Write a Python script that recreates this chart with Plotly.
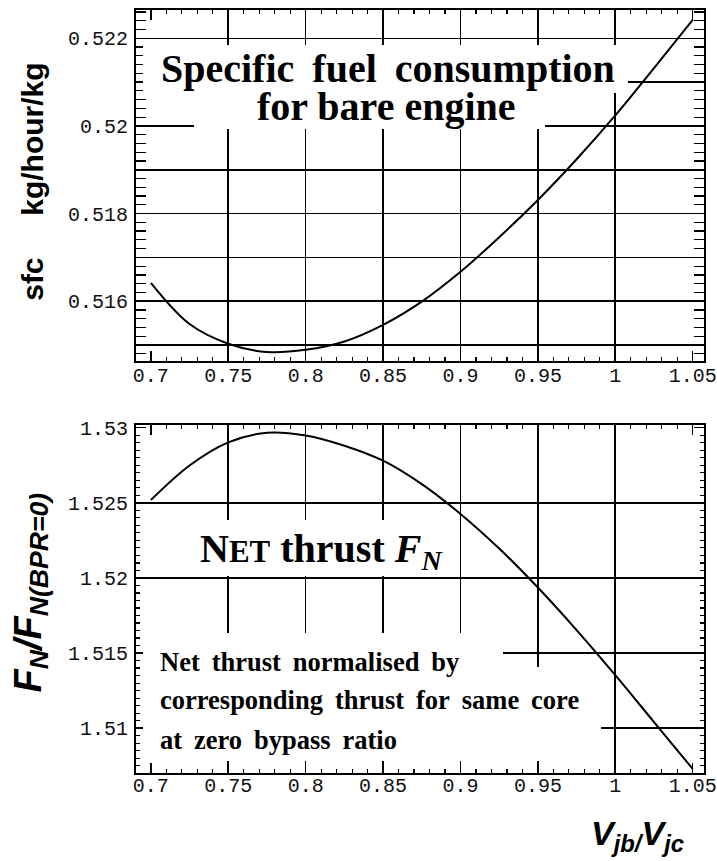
import plotly.graph_objects as go

# ---------------- data ----------------
x_ratio = [0.700, 0.725, 0.750, 0.775, 0.800, 0.825, 0.850, 0.875,
           0.900, 0.925, 0.950, 0.975, 1.000, 1.025, 1.050]
sfc = [0.51642, 0.51548, 0.51503, 0.51484, 0.51489, 0.51508, 0.51546, 0.51599,
       0.51667, 0.51746, 0.51831, 0.51924, 0.52024, 0.52132, 0.52242]
thrust_ratio = [1.52518, 1.52748, 1.52902, 1.52966, 1.52948, 1.52880, 1.52780, 1.52624,
                1.52426, 1.52196, 1.51936, 1.51653, 1.51353, 1.51041, 1.50729]

x_ticks = [0.7, 0.75, 0.8, 0.85, 0.9, 0.95, 1.0, 1.05]
x_tick_text = ["0.7", "0.75", "0.8", "0.85", "0.9", "0.95", "1", "1.05"]
x_grid = [0.75, 0.8, 0.85, 0.9, 0.95, 1.0]

sfc_ticks = [0.515, 0.516, 0.517, 0.518, 0.519, 0.520, 0.521, 0.522]
sfc_tick_text = ["", "0.516", "", "0.518", "", "0.52", "", "0.522"]

fn_ticks = [1.51, 1.515, 1.52, 1.525, 1.53]
fn_tick_text = ["1.51", "1.515", "1.52", "1.525", "1.53"]
fn_grid = [1.51, 1.515, 1.52, 1.525]

# ---------------- geometry helpers ----------------
W, H = 717, 861
def px(x):
    return x / W
def py(y):
    return 1 - y / H

X_RANGE = [0.6904, 1.0573]
SFC_RANGE = [0.514642, 0.522646]
FN_RANGE = [1.5070, 1.53021]
XDOM = [px(136), px(704)]
Y1DOM = [py(360.7), py(10)]
Y2DOM = [py(773.3), py(424.5)]

TICKFONT = dict(family="Liberation Mono", size=20, color="#111")
SERIF = "Liberation Serif"
SANS = "Liberation Sans"

def main_axis(**kw):
    d = dict(showline=True, linewidth=2, linecolor="black", mirror="allticks",
             ticks="inside", ticklen=10, tickwidth=1.5, tickcolor="black",
             showgrid=False, zeroline=False, tickfont=TICKFONT, tickmode="array",
             fixedrange=True, automargin=False)
    d.update(kw)
    return d

def grid_axis(**kw):
    d = dict(showline=False, showticklabels=False, ticks="", zeroline=False,
             showgrid=True, gridcolor="black", gridwidth=1.6, tickmode="array",
             fixedrange=True, automargin=False)
    d.update(kw)
    return d

def minor(tick0, dtick):
    return dict(tickmode="linear", tick0=tick0, dtick=dtick, ticks="inside", ticklen=4,
                tickwidth=1.2, tickcolor="black", showgrid=False)

fig = go.Figure()
fig.add_trace(go.Scatter(x=x_ratio, y=sfc, mode="lines", line=dict(color="black", width=2, shape="spline"),
                         xaxis="x", yaxis="y", hoverinfo="skip", showlegend=False))
fig.add_trace(go.Scatter(x=x_ratio, y=sfc, mode="lines", opacity=0, line=dict(width=0),
                         xaxis="x3", yaxis="y", hoverinfo="skip", showlegend=False))
fig.add_trace(go.Scatter(x=x_ratio, y=thrust_ratio, mode="lines", line=dict(color="black", width=2, shape="spline"),
                         xaxis="x2", yaxis="y2", hoverinfo="skip", showlegend=False))
fig.add_trace(go.Scatter(x=x_ratio, y=thrust_ratio, mode="lines", opacity=0, line=dict(width=0),
                         xaxis="x4", yaxis="y4", hoverinfo="skip", showlegend=False))

fig.update_layout(
    template="none",
    width=W, height=H, margin=dict(l=0, r=0, t=0, b=0, pad=0, autoexpand=False),
    paper_bgcolor="white", plot_bgcolor="white", showlegend=False,
    xaxis=main_axis(domain=XDOM, anchor="y", range=X_RANGE, tickvals=x_ticks, ticktext=x_tick_text,
                    ticklabelstandoff=-5, minor=minor(0.7, 0.01)),
    yaxis=main_axis(domain=Y1DOM, anchor="x", range=SFC_RANGE, tickvals=sfc_ticks, ticktext=sfc_tick_text,
                    ticklabelstandoff=2,
                    showgrid=True, gridcolor="black", gridwidth=1.6, minor=minor(0.514, 0.0002)),
    xaxis3=grid_axis(overlaying="x", anchor="y", range=X_RANGE, tickvals=x_grid),
    xaxis2=main_axis(domain=XDOM, anchor="y2", range=X_RANGE, tickvals=x_ticks, ticktext=x_tick_text,
                     ticklabelstandoff=-7, minor=minor(0.7, 0.01)),
    yaxis2=main_axis(domain=Y2DOM, anchor="x2", range=FN_RANGE, tickvals=fn_ticks, ticktext=fn_tick_text,
                     ticklabelstandoff=2, minor=minor(1.505, 0.0005)),
    xaxis4=grid_axis(overlaying="x2", anchor="y2", range=X_RANGE, tickvals=x_grid),
    yaxis4=grid_axis(overlaying="y2", anchor="x2", range=FN_RANGE, tickvals=fn_grid),
)

annotations = []
# white masks behind the text blocks (hide grid lines like the original)
masks = [(143, 45, 628, 93), (194, 93, 545, 129), (143, 520, 455, 576),
         (143, 633, 503, 667), (143, 667, 601, 761)]
for (x0, y0, x1, y1) in masks:
    annotations.append(dict(xref="paper", yref="paper", x=px((x0 + x1) / 2), y=py((y0 + y1) / 2),
                            xanchor="center", yanchor="middle", text=" ", showarrow=False,
                            width=x1 - x0, height=y1 - y0, bgcolor="white", borderpad=0, borderwidth=0))

def txt(text, x, y, size, family=SERIF, xanchor="center", angle=0):
    annotations.append(dict(xref="paper", yref="paper", x=px(x), y=py(y), xanchor=xanchor,
                            yanchor="middle", text=text, showarrow=False, textangle=angle,
                            font=dict(family=family, size=size, color="black"),
                            borderpad=0, borderwidth=0))

sp = "\u00a0\u2009"
txt("<b>Specific" + sp + "fuel" + sp + "consumption</b>", 387.5, 68.5, 40)
txt("<b>for bare engine</b>", 386.5, 106.5, 40)
txt("<b>N<span style='font-size:31px'>ET</span> thrust <i>F<sub>N</sub></i></b>", 321.5, 551, 40)
txt("<b>Net" + sp + "thrust" + sp + "normalised" + sp + "by</b>", 160, 661.5, 26.5, xanchor="left")
txt("<b>corresponding" + sp + "thrust" + sp + "for" + sp + "same" + sp + "core</b>", 160, 699.5, 26.5, xanchor="left")
txt("<b>at" + sp + "zero" + sp + "bypass" + sp + "ratio</b>", 160, 739.5, 26.5, xanchor="left")

txt("<b>sfc" + "\u00a0" * 5 + "kg/hour/kg</b>", 32.5, 182.3, 30, family=SANS, angle=-90)
txt("<b><i>F<sub>N</sub>/F<sub>N(BPR=0)</sub></i></b>", 30, 592.5, 38, family=SANS, angle=-90)
txt("<b><i>V<sub>jb/</sub>V<sub>jc</sub></i></b>", 637, 835, 34, family=SANS)

fig.update_layout(annotations=annotations)
fig.write_html("out.html", config={"displayModeBar": False, "staticPlot": True},
               post_script="document.body.style.margin='0';document.body.style.overflow='hidden';")
